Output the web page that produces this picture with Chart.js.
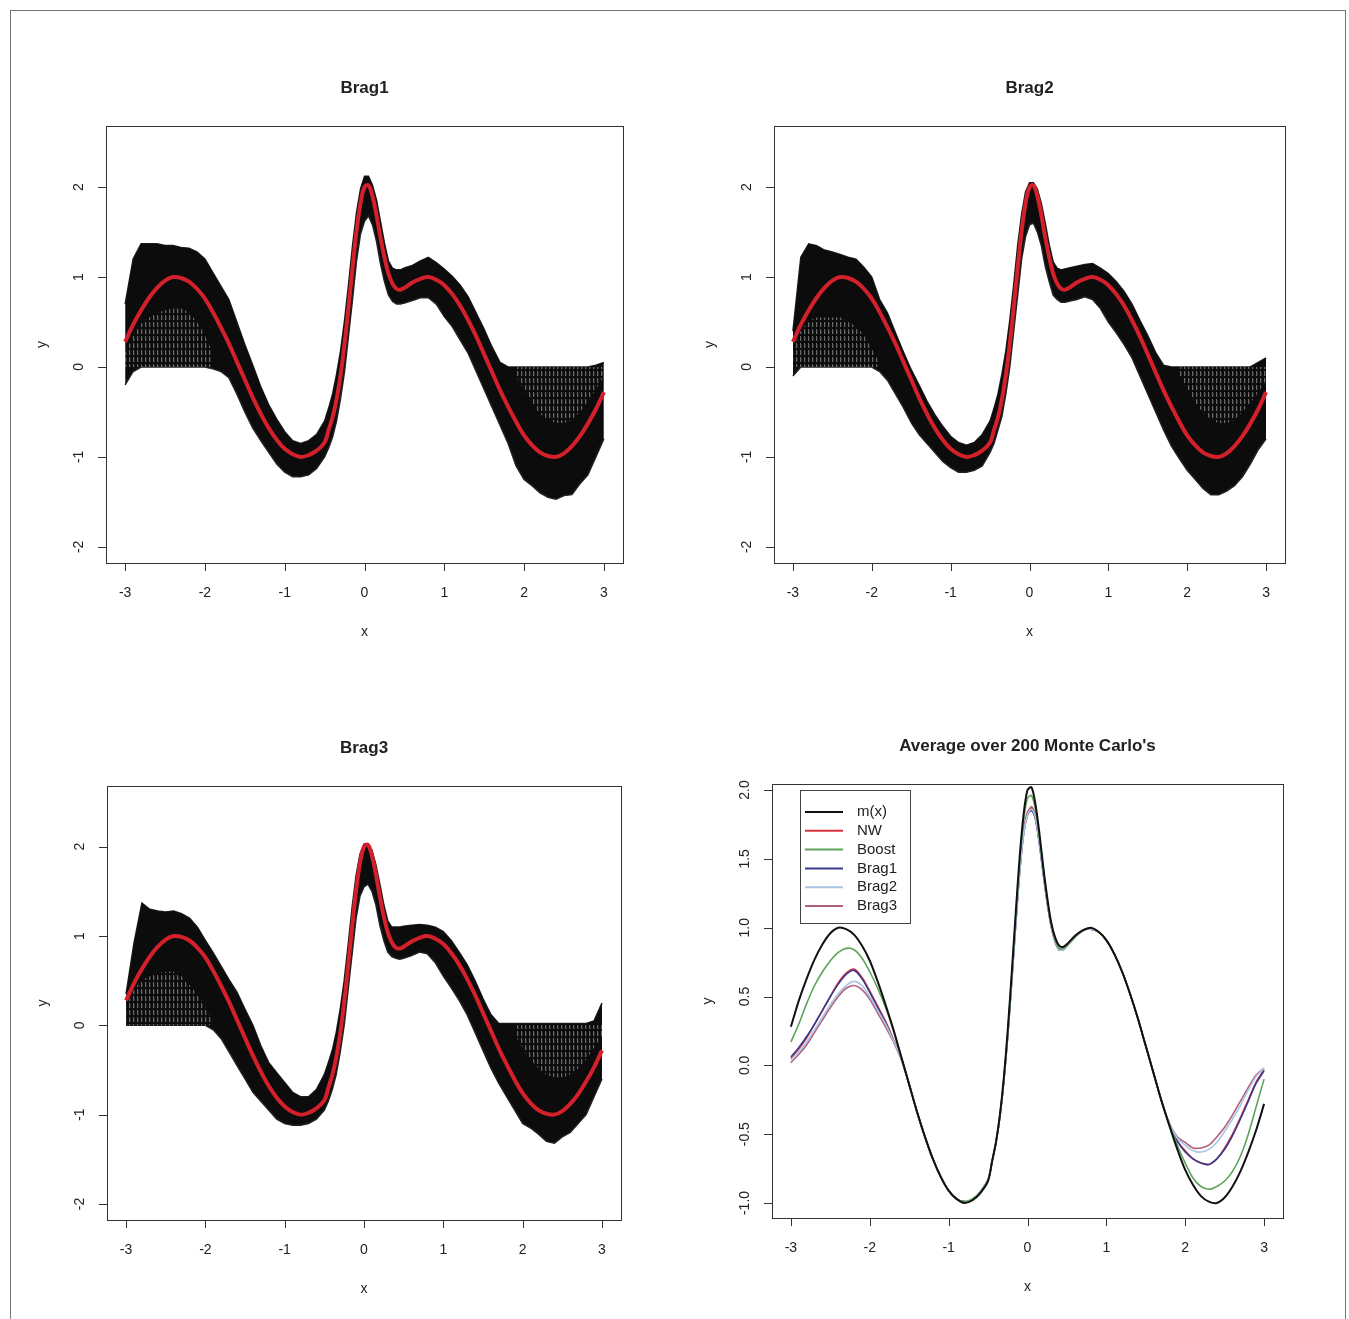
<!DOCTYPE html>
<html>
<head>
<meta charset="utf-8">
<script src="https://cdn.jsdelivr.net/npm/chart.js@4.4.1/dist/chart.umd.min.js"></script>
<style>
  html, body { margin: 0; padding: 0; background: #fff; }
  #page { position: relative; width: 1349px; height: 1319px; overflow: hidden; }
  #frame { position: absolute; left: 10px; top: 10px; width: 1334px; height: 1320px; border: 1px solid #777; border-bottom: none; }
  canvas { position: absolute; }
</style>
</head>
<body>
<div id="page">
  <div id="frame"></div>
  <canvas id="brag1" width="674" height="660" style="left:0px;top:0px"></canvas>
  <canvas id="brag2" width="674" height="660" style="left:675px;top:0px"></canvas>
  <canvas id="brag3" width="674" height="659" style="left:0px;top:660px"></canvas>
  <canvas id="avg" width="674" height="659" style="left:675px;top:660px"></canvas>
</div>
<script>
// grid of x values (finer around the spike at 0)
var xs = [-3.0,-2.9,-2.8,-2.7,-2.6,-2.5,-2.4,-2.3,-2.2,-2.1,
  -2.0,-1.9,-1.8,-1.7,-1.6,-1.5,-1.4,-1.3,-1.2,-1.1,
  -1.0,-0.9,-0.8,-0.7,-0.6,-0.5,
  -0.45,-0.4,-0.35,-0.3,-0.25,-0.2,-0.15,-0.1,-0.05,0,
  0.05,0.1,0.15,0.2,0.25,0.3,0.35,0.4,0.45,0.5,
  0.6,0.7,0.8,0.9,1.0,1.1,1.2,1.3,1.4,1.5,1.6,
  1.7,1.8,1.9,2.0,2.1,2.2,2.3,2.4,2.5,2.6,2.7,2.8,2.9,3.0];

// true function m(x) (red curve / black curve in last panel)
var mTrue = [0.28,0.47,0.63,0.77,0.88,0.96,1.00,0.99,0.95,0.87,
  0.76,0.61,0.44,0.26,0.06,-0.14,-0.34,-0.52,-0.68,-0.81,
  -0.91,-0.97,-1.00,-0.98,-0.93,-0.84,
  -0.70,-0.56,-0.36,-0.09,0.26,0.67,1.10,1.51,1.82,2.00,
  2.02,1.90,1.69,1.44,1.22,1.04,0.93,0.87,0.86,0.88,
  0.94,0.98,1.00,0.97,0.91,0.81,0.68,0.52,0.34,0.14,-0.06,
  -0.26,-0.44,-0.61,-0.76,-0.87,-0.95,-0.99,-1.00,-0.96,-0.88,-0.77,-0.63,-0.47,-0.28];

// envelope of the 200 Monte Carlo fits, per panel
var brag1Hi = [0.70,1.20,1.37,1.37,1.37,1.35,1.35,1.33,1.32,1.28,
  1.20,1.05,0.90,0.75,0.50,0.25,0.02,-0.22,-0.42,-0.58,
  -0.72,-0.82,-0.85,-0.82,-0.75,-0.60,
  -0.46,-0.30,-0.08,0.18,0.52,0.92,1.35,1.72,1.98,2.12,
  2.12,2.02,1.86,1.62,1.38,1.18,1.10,1.08,1.08,1.10,
  1.13,1.18,1.22,1.16,1.09,1.01,0.91,0.78,0.60,0.42,0.22,
  0.05,0,0,0,0,0,0,0,0,0,0,0,0.02,0.05];
var brag1Lo = [-0.20,-0.05,0,0,0,0,0,0,0,0,
  0,-0.02,-0.05,-0.12,-0.30,-0.50,-0.68,-0.82,-0.95,-1.08,
  -1.17,-1.22,-1.22,-1.20,-1.13,-1.00,
  -0.90,-0.78,-0.60,-0.35,-0.05,0.35,0.75,1.18,1.48,1.62,
  1.68,1.58,1.40,1.15,0.95,0.80,0.73,0.70,0.70,0.71,
  0.74,0.77,0.77,0.70,0.56,0.45,0.30,0.15,-0.05,-0.25,-0.45,
  -0.65,-0.85,-1.10,-1.25,-1.32,-1.40,-1.45,-1.47,-1.43,-1.42,-1.30,-1.20,-1.00,-0.80];

var brag2Hi = [0.40,1.22,1.37,1.35,1.30,1.28,1.25,1.22,1.20,1.11,
  1.00,0.75,0.60,0.38,0.17,-0.03,-0.20,-0.38,-0.53,-0.66,
  -0.77,-0.84,-0.87,-0.84,-0.75,-0.60,
  -0.46,-0.30,-0.08,0.18,0.52,0.92,1.35,1.70,1.95,2.05,
  2.05,1.98,1.82,1.60,1.36,1.17,1.10,1.08,1.09,1.10,
  1.12,1.14,1.15,1.10,1.04,0.95,0.84,0.70,0.52,0.35,0.16,
  0.02,0,0,0,0,0,0,0,0,0,0,0,0.05,0.10];
var brag2Lo = [-0.10,0,0,0,0,0,0,0,0,0,
  0,-0.05,-0.15,-0.30,-0.45,-0.62,-0.75,-0.85,-0.95,-1.05,
  -1.12,-1.17,-1.17,-1.15,-1.10,-0.95,
  -0.85,-0.70,-0.55,-0.30,0.00,0.40,0.80,1.20,1.45,1.58,
  1.60,1.50,1.35,1.12,0.95,0.80,0.75,0.72,0.72,0.73,
  0.75,0.78,0.75,0.65,0.50,0.38,0.25,0.10,-0.10,-0.30,-0.50,
  -0.70,-0.88,-1.02,-1.15,-1.25,-1.35,-1.42,-1.42,-1.38,-1.32,-1.22,-1.08,-0.92,-0.80];

var brag3Hi = [0.35,0.92,1.37,1.30,1.28,1.27,1.28,1.25,1.20,1.10,
  0.95,0.81,0.66,0.51,0.37,0.18,0.00,-0.23,-0.42,-0.53,
  -0.64,-0.75,-0.80,-0.80,-0.72,-0.55,
  -0.42,-0.28,-0.08,0.18,0.50,0.90,1.32,1.68,1.92,2.03,
  2.03,1.96,1.80,1.58,1.35,1.17,1.10,1.10,1.10,1.11,
  1.12,1.13,1.12,1.10,1.05,0.95,0.82,0.68,0.50,0.30,0.12,
  0.02,0.02,0.02,0.02,0.02,0.02,0.02,0.02,0.02,0.02,0.02,0.02,0.05,0.25];
var brag3Lo = [0,0,0,0,0,0,0,0,0,0,
  0,-0.05,-0.15,-0.30,-0.45,-0.60,-0.75,-0.85,-0.95,-1.05,
  -1.10,-1.12,-1.12,-1.10,-1.05,-0.95,
  -0.85,-0.72,-0.55,-0.30,0.00,0.40,0.80,1.20,1.45,1.55,
  1.58,1.50,1.35,1.12,0.95,0.82,0.77,0.75,0.74,0.75,
  0.78,0.82,0.80,0.70,0.55,0.42,0.28,0.12,-0.08,-0.28,-0.48,
  -0.65,-0.80,-0.95,-1.10,-1.15,-1.22,-1.30,-1.32,-1.25,-1.20,-1.10,-1.00,-0.80,-0.60];

// sparser (hatched) parts near the ends, where the fits drop to 0
var hatchXL = [-3.0,-2.9,-2.8,-2.7,-2.6,-2.5,-2.4,-2.3,-2.2,-2.1,-2.0,-1.9];
var hatchXR = [1.9,2.0,2.1,2.2,2.3,2.4,2.5,2.6,2.7,2.8,2.9,3.0];
var brag1HatchL = [0.15,0.35,0.48,0.55,0.60,0.63,0.65,0.65,0.60,0.50,0.35,0.15];
var brag1HatchR = [-0.10,-0.25,-0.40,-0.52,-0.58,-0.62,-0.62,-0.58,-0.50,-0.38,-0.25,-0.10];
var brag2HatchL = [0.20,0.40,0.50,0.55,0.55,0.55,0.55,0.50,0.45,0.35,0.20,0.05];
var brag2HatchR = [-0.10,-0.25,-0.40,-0.50,-0.58,-0.62,-0.62,-0.58,-0.50,-0.40,-0.28,-0.15];
var brag3HatchL = [0.20,0.40,0.50,0.55,0.58,0.60,0.60,0.55,0.45,0.35,0.20,0.05];
var brag3HatchR = [-0.10,-0.25,-0.38,-0.48,-0.55,-0.58,-0.58,-0.55,-0.48,-0.38,-0.25,-0.12];

// averages over 200 Monte Carlo runs
var avgNW = [0.05,0.12,0.20,0.30,0.40,0.50,0.60,0.67,0.70,0.64,
  0.54,0.43,0.32,0.19,0.05,-0.14,-0.34,-0.52,-0.68,-0.81,
  -0.91,-0.97,-0.99,-0.98,-0.92,-0.83,
  -0.70,-0.56,-0.37,-0.11,0.22,0.62,1.03,1.42,1.70,1.84,
  1.87,1.80,1.62,1.40,1.19,1.02,0.90,0.84,0.84,0.87,
  0.93,0.98,0.99,0.97,0.91,0.81,0.68,0.52,0.34,0.14,-0.06,
  -0.26,-0.43,-0.55,-0.62,-0.68,-0.71,-0.72,-0.68,-0.60,-0.50,-0.38,-0.25,-0.12,-0.03];
var avgBoost = [0.17,0.30,0.45,0.58,0.68,0.76,0.82,0.85,0.84,0.78,
  0.68,0.56,0.42,0.25,0.06,-0.14,-0.34,-0.52,-0.68,-0.81,
  -0.91,-0.97,-0.99,-0.97,-0.92,-0.83,
  -0.70,-0.56,-0.37,-0.10,0.24,0.65,1.07,1.47,1.78,1.94,
  1.96,1.86,1.66,1.42,1.20,1.02,0.91,0.85,0.85,0.87,
  0.93,0.98,1.00,0.97,0.91,0.81,0.68,0.52,0.34,0.14,-0.06,
  -0.26,-0.43,-0.58,-0.71,-0.82,-0.88,-0.90,-0.88,-0.84,-0.77,-0.66,-0.50,-0.30,-0.10];
var avgBrag1 = [0.06,0.13,0.21,0.30,0.40,0.50,0.59,0.66,0.69,0.63,
  0.53,0.42,0.31,0.18,0.05,-0.14,-0.34,-0.52,-0.68,-0.81,
  -0.91,-0.97,-0.99,-0.98,-0.92,-0.83,
  -0.70,-0.56,-0.37,-0.11,0.22,0.61,1.02,1.40,1.68,1.82,
  1.85,1.79,1.61,1.39,1.18,1.01,0.90,0.84,0.84,0.87,
  0.93,0.98,0.99,0.97,0.91,0.81,0.68,0.52,0.34,0.14,-0.06,
  -0.26,-0.43,-0.55,-0.63,-0.68,-0.71,-0.72,-0.68,-0.61,-0.51,-0.39,-0.26,-0.13,-0.04];
var avgBrag2 = [0.04,0.10,0.17,0.26,0.35,0.44,0.52,0.58,0.61,0.58,
  0.50,0.40,0.30,0.18,0.05,-0.14,-0.34,-0.52,-0.68,-0.81,
  -0.91,-0.97,-0.99,-0.98,-0.92,-0.83,
  -0.70,-0.56,-0.37,-0.11,0.22,0.61,1.02,1.40,1.68,1.82,
  1.86,1.80,1.62,1.40,1.19,1.01,0.90,0.84,0.84,0.87,
  0.93,0.98,0.99,0.97,0.91,0.81,0.68,0.52,0.34,0.14,-0.06,
  -0.26,-0.42,-0.53,-0.58,-0.62,-0.63,-0.61,-0.56,-0.48,-0.39,-0.29,-0.18,-0.08,-0.02];
var avgBrag3 = [0.02,0.08,0.15,0.24,0.33,0.42,0.50,0.56,0.58,0.55,
  0.48,0.38,0.28,0.17,0.04,-0.14,-0.34,-0.52,-0.68,-0.81,
  -0.91,-0.97,-0.99,-0.98,-0.92,-0.83,
  -0.70,-0.56,-0.37,-0.11,0.22,0.61,1.02,1.40,1.68,1.82,
  1.88,1.81,1.63,1.40,1.19,1.01,0.90,0.84,0.84,0.87,
  0.93,0.98,0.99,0.97,0.91,0.81,0.68,0.52,0.34,0.14,-0.06,
  -0.26,-0.42,-0.52,-0.56,-0.60,-0.60,-0.58,-0.52,-0.45,-0.36,-0.26,-0.16,-0.07,-0.02];

// ticks
var xTickVals = [-3,-2,-1,0,1,2,3];
var xTickLabels = ['-3','-2','-1','0','1','2','3'];
var yTickVals = [-2,-1,0,1,2];
var yTickLabels = ['-2','-1','0','1','2'];
var avgYTickVals = [-1,-0.5,0,0.5,1,1.5,2];
var avgYTickLabels = ['-1.0','-0.5','0.0','0.5','1.0','1.5','2.0'];

Chart.defaults.font.family = '"Liberation Sans", Arial, sans-serif';

function pts(xv, yv) {
  return xv.map(function(x, i) { return { x: x, y: yv[i] }; });
}

// hatched look of the sparse step lines
function makeHatch() {
  var c = document.createElement('canvas');
  c.width = 4; c.height = 7;
  var g = c.getContext('2d');
  g.fillStyle = 'rgba(255,255,255,0.38)';
  g.fillRect(1, 0, 1, 5);
  g.fillStyle = 'rgba(255,255,255,0.12)';
  g.fillRect(2, 1, 1, 4);
  return g.createPattern(c, 'repeat');
}
var hatch = makeHatch();

// R style box, axes, labels, title and legend
var rAxes = {
  id: 'rAxes',
  afterDraw: function(chart, args, o) {
    var ctx = chart.ctx, a = chart.chartArea;
    var sx = chart.scales.x, sy = chart.scales.y;
    ctx.save();
    ctx.strokeStyle = '#333';
    ctx.lineWidth = 1;
    ctx.strokeRect(Math.round(a.left) + 0.5, Math.round(a.top) + 0.5,
      Math.round(a.right - a.left), Math.round(a.bottom - a.top));
    ctx.beginPath();
    o.xTicks.forEach(function(v) {
      var p = Math.round(sx.getPixelForValue(v)) + 0.5;
      ctx.moveTo(p, a.bottom); ctx.lineTo(p, a.bottom + 8);
    });
    o.yTicks.forEach(function(v) {
      var p = Math.round(sy.getPixelForValue(v)) + 0.5;
      ctx.moveTo(a.left - 8, p); ctx.lineTo(a.left, p);
    });
    ctx.stroke();

    ctx.fillStyle = '#222';
    ctx.textAlign = 'center';
    ctx.textBaseline = 'middle';
    ctx.font = '14px "Liberation Sans", Arial, sans-serif';
    o.xTicks.forEach(function(v, i) {
      ctx.fillText(o.xLabels[i], sx.getPixelForValue(v), a.bottom + 30);
    });
    o.yTicks.forEach(function(v, i) {
      ctx.save();
      ctx.translate(a.left - 27, sy.getPixelForValue(v));
      ctx.rotate(-Math.PI / 2);
      ctx.fillText(o.yLabels[i], 0, 0);
      ctx.restore();
    });
    ctx.fillText('x', (a.left + a.right) / 2, a.bottom + 69);
    ctx.save();
    ctx.translate(a.left - 64, (a.top + a.bottom) / 2);
    ctx.rotate(-Math.PI / 2);
    ctx.fillText('y', 0, 0);
    ctx.restore();

    ctx.font = 'bold 17px "Liberation Sans", Arial, sans-serif';
    ctx.fillText(o.title, (a.left + a.right) / 2, a.top - 38);

    if (o.legend) {
      var lx = a.left + 28, ly = a.top + 6;
      ctx.fillStyle = '#fff';
      ctx.fillRect(lx, ly, 110, 133);
      ctx.strokeStyle = '#444';
      ctx.lineWidth = 1;
      ctx.strokeRect(lx + 0.5, ly + 0.5, 110, 133);
      ctx.font = '15px "Liberation Sans", Arial, sans-serif';
      ctx.textAlign = 'left';
      chart.data.datasets.forEach(function(d, i) {
        var yy = ly + 22 + i * 18.8;
        ctx.strokeStyle = d.borderColor;
        ctx.lineWidth = 2;
        ctx.beginPath();
        ctx.moveTo(lx + 5, yy); ctx.lineTo(lx + 43, yy);
        ctx.stroke();
        ctx.fillStyle = '#222';
        ctx.fillText(d.label, lx + 57, yy);
      });
    }
    ctx.restore();
  }
};

function options(pad, ymin, ymax, axes) {
  return {
    responsive: false,
    animation: false,
    events: [],
    layout: { padding: pad },
    scales: {
      x: { type: 'linear', min: -3.24, max: 3.24, display: false },
      y: { type: 'linear', min: ymin, max: ymax, display: false }
    },
    elements: { point: { radius: 0 } },
    plugins: { legend: { display: false }, tooltip: { enabled: false }, rAxes: axes }
  };
}

function bragChart(id, title, hi, lo, hatchL, hatchR, pad) {
  new Chart(document.getElementById(id), {
    type: 'line',
    data: {
      datasets: [
        { label: 'm(x)', data: pts(xs, mTrue), borderColor: '#d4202a', borderWidth: 4,
          tension: 0.4, fill: false, order: 0 },
        { label: 'sparse left', data: pts(hatchXL, hatchL), borderWidth: 0, borderColor: 'rgba(0,0,0,0)',
          backgroundColor: hatch, fill: { value: 0 }, tension: 0.3, order: 1 },
        { label: 'sparse right', data: pts(hatchXR, hatchR), borderWidth: 0, borderColor: 'rgba(0,0,0,0)',
          backgroundColor: hatch, fill: { value: 0 }, tension: 0.3, order: 1 },
        { label: 'upper', data: pts(xs, hi), borderColor: '#222', borderWidth: 1.5,
          tension: 0, fill: false, order: 3 },
        { label: 'lower', data: pts(xs, lo), borderColor: '#222', borderWidth: 1.5,
          tension: 0, fill: '-1', backgroundColor: '#0c0c0c', order: 2 }
      ]
    },
    options: options(pad, -2.18, 2.68, {
      title: title, xTicks: xTickVals, xLabels: xTickLabels,
      yTicks: yTickVals, yLabels: yTickLabels
    }),
    plugins: [rAxes]
  });
}

bragChart('brag1', 'Brag1', brag1Hi, brag1Lo, brag1HatchL, brag1HatchR,
  { left: 106, top: 126, right: 51, bottom: 97 });
bragChart('brag2', 'Brag2', brag2Hi, brag2Lo, brag2HatchL, brag2HatchR,
  { left: 99, top: 126, right: 64, bottom: 97 });
bragChart('brag3', 'Brag3', brag3Hi, brag3Lo, brag3HatchL, brag3HatchR,
  { left: 107, top: 126, right: 53, bottom: 99 });

function avgLine(label, values, color, width, order) {
  return { label: label, data: pts(xs, values), borderColor: color, borderWidth: width,
    tension: 0.3, fill: false, order: order };
}

new Chart(document.getElementById('avg'), {
  type: 'line',
  data: {
    datasets: [
      avgLine('m(x)', mTrue, '#111', 2, 0),
      avgLine('NW', avgNW, '#d8343f', 1.6, 4),
      avgLine('Boost', avgBoost, '#5ea35a', 1.6, 1),
      avgLine('Brag1', avgBrag1, '#3a3a8e', 1.6, 3),
      avgLine('Brag2', avgBrag2, '#a9c6e3', 1.6, 2),
      avgLine('Brag3', avgBrag3, '#b0607c', 1.6, 2)
    ]
  },
  options: options({ left: 97, top: 124, right: 66, bottom: 101 }, -1.109, 2.044, {
    title: "Average over 200 Monte Carlo's", xTicks: xTickVals, xLabels: xTickLabels,
    yTicks: avgYTickVals, yLabels: avgYTickLabels, legend: true
  }),
  plugins: [rAxes]
});
</script>
</body>
</html>
